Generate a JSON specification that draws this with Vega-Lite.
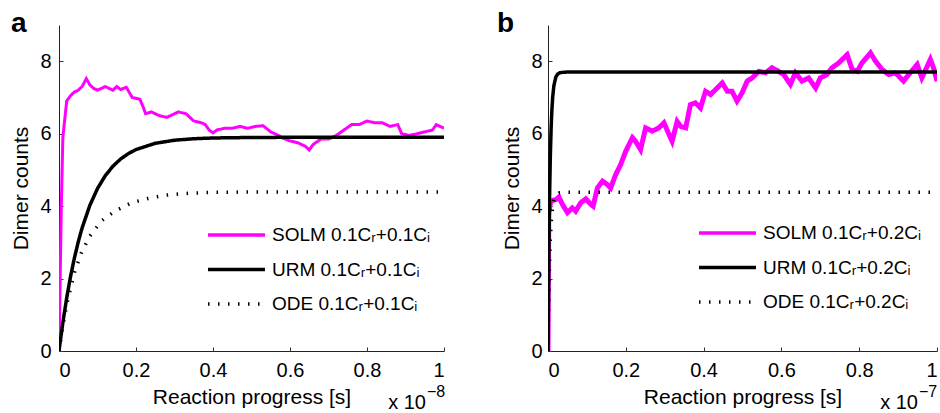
{
  "$schema": "https://vega.github.io/schema/vega-lite/v6.json",
  "padding": {"left": 10, "top": 10, "right": 0, "bottom": 0},
  "background": "white",
  "config": {
    "font": "Liberation Sans",
    "view": {"stroke": null},
    "axis": {
      "grid": false,
      "domainColor": "#222222",
      "domainWidth": 1,
      "ticks": false,
      "tickColor": "#333333",
      "tickSize": 4,
      "tickWidth": 1,
      "labelFont": "Liberation Sans",
      "labelFontSize": 20,
      "labelColor": "#000000",
      "titleFont": "Liberation Sans",
      "titleFontSize": 21,
      "titleFontWeight": "normal",
      "titleColor": "#000000"
    },
    "legend": {
      "orient": "none",
      "symbolType": "stroke",
      "symbolSize": 3249,
      "symbolStrokeWidth": 3.5,
      "labelFont": "Liberation Sans",
      "labelFontSize": 19,
      "labelColor": "#000000",
      "labelOffset": 5,
      "clipHeight": 22,
      "rowPadding": 12.5,
      "labelLimit": 400
    },
    "title": {"font": "Liberation Sans", "fontSize": 28, "fontWeight": "bold", "color": "#000000"}
  },
  "datasets": {
    "a": [
      {"model": "SOLM", "t": 0, "v": 0},
      {"model": "SOLM", "t": 0.003, "v": 2},
      {"model": "SOLM", "t": 0.006, "v": 4},
      {"model": "SOLM", "t": 0.01, "v": 5.9},
      {"model": "SOLM", "t": 0.02, "v": 6.9},
      {"model": "SOLM", "t": 0.03, "v": 7.05},
      {"model": "SOLM", "t": 0.04, "v": 7.15},
      {"model": "SOLM", "t": 0.05, "v": 7.2},
      {"model": "SOLM", "t": 0.06, "v": 7.3},
      {"model": "SOLM", "t": 0.071, "v": 7.52},
      {"model": "SOLM", "t": 0.08, "v": 7.35},
      {"model": "SOLM", "t": 0.09, "v": 7.25},
      {"model": "SOLM", "t": 0.1, "v": 7.2},
      {"model": "SOLM", "t": 0.12, "v": 7.3},
      {"model": "SOLM", "t": 0.14, "v": 7.2},
      {"model": "SOLM", "t": 0.15, "v": 7.3},
      {"model": "SOLM", "t": 0.16, "v": 7.22},
      {"model": "SOLM", "t": 0.175, "v": 7.28},
      {"model": "SOLM", "t": 0.19, "v": 7.0},
      {"model": "SOLM", "t": 0.21, "v": 6.95},
      {"model": "SOLM", "t": 0.22, "v": 6.7},
      {"model": "SOLM", "t": 0.225, "v": 6.55},
      {"model": "SOLM", "t": 0.24, "v": 6.6},
      {"model": "SOLM", "t": 0.26, "v": 6.5},
      {"model": "SOLM", "t": 0.28, "v": 6.45},
      {"model": "SOLM", "t": 0.29, "v": 6.5},
      {"model": "SOLM", "t": 0.3, "v": 6.55},
      {"model": "SOLM", "t": 0.31, "v": 6.6},
      {"model": "SOLM", "t": 0.33, "v": 6.55},
      {"model": "SOLM", "t": 0.35, "v": 6.35},
      {"model": "SOLM", "t": 0.37, "v": 6.3},
      {"model": "SOLM", "t": 0.38, "v": 6.25},
      {"model": "SOLM", "t": 0.39, "v": 6.1},
      {"model": "SOLM", "t": 0.4, "v": 6.02},
      {"model": "SOLM", "t": 0.41, "v": 6.1},
      {"model": "SOLM", "t": 0.43, "v": 6.15},
      {"model": "SOLM", "t": 0.45, "v": 6.15},
      {"model": "SOLM", "t": 0.47, "v": 6.2},
      {"model": "SOLM", "t": 0.49, "v": 6.15},
      {"model": "SOLM", "t": 0.51, "v": 6.2},
      {"model": "SOLM", "t": 0.53, "v": 6.22},
      {"model": "SOLM", "t": 0.55, "v": 6.05},
      {"model": "SOLM", "t": 0.57, "v": 5.95},
      {"model": "SOLM", "t": 0.58, "v": 5.88},
      {"model": "SOLM", "t": 0.6, "v": 5.8},
      {"model": "SOLM", "t": 0.62, "v": 5.75},
      {"model": "SOLM", "t": 0.64, "v": 5.65},
      {"model": "SOLM", "t": 0.65, "v": 5.55},
      {"model": "SOLM", "t": 0.66, "v": 5.7},
      {"model": "SOLM", "t": 0.68, "v": 5.85},
      {"model": "SOLM", "t": 0.7, "v": 5.85},
      {"model": "SOLM", "t": 0.72, "v": 5.95},
      {"model": "SOLM", "t": 0.74, "v": 6.1},
      {"model": "SOLM", "t": 0.76, "v": 6.25},
      {"model": "SOLM", "t": 0.78, "v": 6.25},
      {"model": "SOLM", "t": 0.8, "v": 6.35},
      {"model": "SOLM", "t": 0.82, "v": 6.3},
      {"model": "SOLM", "t": 0.84, "v": 6.3},
      {"model": "SOLM", "t": 0.86, "v": 6.2},
      {"model": "SOLM", "t": 0.88, "v": 6.25},
      {"model": "SOLM", "t": 0.89, "v": 6.0},
      {"model": "SOLM", "t": 0.91, "v": 5.95},
      {"model": "SOLM", "t": 0.93, "v": 6.0},
      {"model": "SOLM", "t": 0.95, "v": 6.05},
      {"model": "SOLM", "t": 0.97, "v": 6.1},
      {"model": "SOLM", "t": 0.98, "v": 6.25},
      {"model": "SOLM", "t": 1.0, "v": 6.15},
      {"model": "ODE", "t": 0, "v": 0},
      {"model": "ODE", "t": 0.01, "v": 0.7},
      {"model": "ODE", "t": 0.023, "v": 1.43},
      {"model": "ODE", "t": 0.041, "v": 2.2},
      {"model": "ODE", "t": 0.058, "v": 2.71},
      {"model": "ODE", "t": 0.08, "v": 3.17},
      {"model": "ODE", "t": 0.11, "v": 3.59},
      {"model": "ODE", "t": 0.145, "v": 3.86},
      {"model": "ODE", "t": 0.188, "v": 4.09},
      {"model": "ODE", "t": 0.231, "v": 4.21},
      {"model": "ODE", "t": 0.275, "v": 4.3},
      {"model": "ODE", "t": 0.33, "v": 4.35},
      {"model": "ODE", "t": 0.4, "v": 4.38},
      {"model": "ODE", "t": 0.5, "v": 4.39},
      {"model": "ODE", "t": 1.0, "v": 4.39},
      {"model": "URM", "t": 0, "v": 0},
      {"model": "URM", "t": 0.01, "v": 0.785},
      {"model": "URM", "t": 0.02, "v": 1.466},
      {"model": "URM", "t": 0.03, "v": 2.057},
      {"model": "URM", "t": 0.04, "v": 2.568},
      {"model": "URM", "t": 0.05, "v": 3.012},
      {"model": "URM", "t": 0.06, "v": 3.396},
      {"model": "URM", "t": 0.08, "v": 4.018},
      {"model": "URM", "t": 0.1, "v": 4.486},
      {"model": "URM", "t": 0.12, "v": 4.837},
      {"model": "URM", "t": 0.14, "v": 5.102},
      {"model": "URM", "t": 0.16, "v": 5.3},
      {"model": "URM", "t": 0.18, "v": 5.449},
      {"model": "URM", "t": 0.2, "v": 5.561},
      {"model": "URM", "t": 0.25, "v": 5.734},
      {"model": "URM", "t": 0.3, "v": 5.819},
      {"model": "URM", "t": 0.35, "v": 5.86},
      {"model": "URM", "t": 0.4, "v": 5.881},
      {"model": "URM", "t": 0.5, "v": 5.895},
      {"model": "URM", "t": 0.6, "v": 5.899},
      {"model": "URM", "t": 0.8, "v": 5.9},
      {"model": "URM", "t": 1.0, "v": 5.9}
    ],
    "b": [
      {"model": "SOLM", "t": 0, "v": 0},
      {"model": "SOLM", "t": 0.002, "v": 3.8},
      {"model": "SOLM", "t": 0.007, "v": 4.14},
      {"model": "SOLM", "t": 0.02, "v": 4.18},
      {"model": "SOLM", "t": 0.028, "v": 4.25},
      {"model": "SOLM", "t": 0.037, "v": 4.05},
      {"model": "SOLM", "t": 0.05, "v": 3.82},
      {"model": "SOLM", "t": 0.0625, "v": 3.95},
      {"model": "SOLM", "t": 0.071, "v": 3.86},
      {"model": "SOLM", "t": 0.084, "v": 4.09},
      {"model": "SOLM", "t": 0.097, "v": 4.2},
      {"model": "SOLM", "t": 0.11, "v": 4.05},
      {"model": "SOLM", "t": 0.116, "v": 4.0},
      {"model": "SOLM", "t": 0.127, "v": 4.5},
      {"model": "SOLM", "t": 0.14, "v": 4.69},
      {"model": "SOLM", "t": 0.152, "v": 4.6},
      {"model": "SOLM", "t": 0.161, "v": 4.5},
      {"model": "SOLM", "t": 0.174, "v": 4.87},
      {"model": "SOLM", "t": 0.187, "v": 5.15},
      {"model": "SOLM", "t": 0.2, "v": 5.52},
      {"model": "SOLM", "t": 0.217, "v": 5.89},
      {"model": "SOLM", "t": 0.225, "v": 5.79},
      {"model": "SOLM", "t": 0.238, "v": 5.56},
      {"model": "SOLM", "t": 0.251, "v": 6.16},
      {"model": "SOLM", "t": 0.268, "v": 6.07},
      {"model": "SOLM", "t": 0.285, "v": 6.16},
      {"model": "SOLM", "t": 0.298, "v": 6.3},
      {"model": "SOLM", "t": 0.311, "v": 5.98},
      {"model": "SOLM", "t": 0.319, "v": 5.79},
      {"model": "SOLM", "t": 0.332, "v": 6.34},
      {"model": "SOLM", "t": 0.341, "v": 6.2},
      {"model": "SOLM", "t": 0.354, "v": 6.16},
      {"model": "SOLM", "t": 0.366, "v": 6.8},
      {"model": "SOLM", "t": 0.379, "v": 6.85},
      {"model": "SOLM", "t": 0.392, "v": 6.71},
      {"model": "SOLM", "t": 0.405, "v": 7.17},
      {"model": "SOLM", "t": 0.418, "v": 7.08},
      {"model": "SOLM", "t": 0.431, "v": 7.22},
      {"model": "SOLM", "t": 0.448, "v": 7.4},
      {"model": "SOLM", "t": 0.461, "v": 7.17},
      {"model": "SOLM", "t": 0.473, "v": 7.17},
      {"model": "SOLM", "t": 0.486, "v": 6.9},
      {"model": "SOLM", "t": 0.499, "v": 7.13},
      {"model": "SOLM", "t": 0.512, "v": 7.45},
      {"model": "SOLM", "t": 0.525, "v": 7.54},
      {"model": "SOLM", "t": 0.542, "v": 7.72},
      {"model": "SOLM", "t": 0.559, "v": 7.68},
      {"model": "SOLM", "t": 0.576, "v": 7.82},
      {"model": "SOLM", "t": 0.593, "v": 7.72},
      {"model": "SOLM", "t": 0.606, "v": 7.63},
      {"model": "SOLM", "t": 0.623, "v": 7.36},
      {"model": "SOLM", "t": 0.636, "v": 7.68},
      {"model": "SOLM", "t": 0.653, "v": 7.45},
      {"model": "SOLM", "t": 0.67, "v": 7.54},
      {"model": "SOLM", "t": 0.688, "v": 7.26},
      {"model": "SOLM", "t": 0.7, "v": 7.54},
      {"model": "SOLM", "t": 0.717, "v": 7.63},
      {"model": "SOLM", "t": 0.73, "v": 7.82},
      {"model": "SOLM", "t": 0.747, "v": 7.95},
      {"model": "SOLM", "t": 0.769, "v": 8.18},
      {"model": "SOLM", "t": 0.782, "v": 7.77},
      {"model": "SOLM", "t": 0.795, "v": 7.72},
      {"model": "SOLM", "t": 0.807, "v": 7.95},
      {"model": "SOLM", "t": 0.829, "v": 8.23},
      {"model": "SOLM", "t": 0.842, "v": 8.0},
      {"model": "SOLM", "t": 0.859, "v": 7.77},
      {"model": "SOLM", "t": 0.876, "v": 7.63},
      {"model": "SOLM", "t": 0.893, "v": 7.68},
      {"model": "SOLM", "t": 0.914, "v": 7.45},
      {"model": "SOLM", "t": 0.927, "v": 7.63},
      {"model": "SOLM", "t": 0.949, "v": 7.91},
      {"model": "SOLM", "t": 0.961, "v": 7.54},
      {"model": "SOLM", "t": 0.983, "v": 8.05},
      {"model": "SOLM", "t": 0.991, "v": 7.82},
      {"model": "SOLM", "t": 1.0, "v": 7.45},
      {"model": "ODE", "t": 0, "v": 0},
      {"model": "ODE", "t": 0.002, "v": 1.45},
      {"model": "ODE", "t": 0.004, "v": 2.42},
      {"model": "ODE", "t": 0.006, "v": 3.07},
      {"model": "ODE", "t": 0.008, "v": 3.5},
      {"model": "ODE", "t": 0.01, "v": 3.8},
      {"model": "ODE", "t": 0.015, "v": 4.18},
      {"model": "ODE", "t": 0.02, "v": 4.31},
      {"model": "ODE", "t": 0.03, "v": 4.37},
      {"model": "ODE", "t": 0.04, "v": 4.38},
      {"model": "ODE", "t": 1.0, "v": 4.38},
      {"model": "URM", "t": 0, "v": 0},
      {"model": "URM", "t": 0.002, "v": 2.539},
      {"model": "URM", "t": 0.004, "v": 4.24},
      {"model": "URM", "t": 0.006, "v": 5.381},
      {"model": "URM", "t": 0.008, "v": 6.145},
      {"model": "URM", "t": 0.01, "v": 6.658},
      {"model": "URM", "t": 0.012, "v": 7.001},
      {"model": "URM", "t": 0.015, "v": 7.316},
      {"model": "URM", "t": 0.02, "v": 7.559},
      {"model": "URM", "t": 0.025, "v": 7.648},
      {"model": "URM", "t": 0.03, "v": 7.681},
      {"model": "URM", "t": 0.04, "v": 7.697},
      {"model": "URM", "t": 0.05, "v": 7.7},
      {"model": "URM", "t": 1.0, "v": 7.7}
    ],
    "noteA": [{"base": "x 10", "exp": "−8"}],
    "noteB": [{"base": "x 10", "exp": "−7"}]
  },
  "hconcat": [
    {
      "width": 385,
      "height": 326,
      "title": {"text": "a", "anchor": "start", "frame": "group", "dx": -48, "dy": 8, "offset": -27, "baseline": "alphabetic"},
      "resolve": {"axis": {"x": "independent", "y": "independent"}},
      "layer": [
        {
          "data": {"name": "a"},
          "encoding": {
            "x": {"field": "t", "type": "quantitative", "scale": {"domain": [0, 1], "nice": false},
              "axis": {"title": "Reaction progress [s]", "values": [0, 0.2, 0.4, 0.6, 0.8, 1], "format": "~g", "labelPadding": 9, "titlePadding": 6}},
            "y": {"field": "v", "type": "quantitative", "scale": {"domain": [0, 9], "nice": false},
              "axis": {"title": "Dimer counts", "values": [0, 2, 4, 6, 8], "labelPadding": 8, "titlePadding": 8}},
            "color": {"field": "model", "type": "nominal",
              "scale": {"domain": ["SOLM", "URM", "ODE"], "range": ["#ff00ff", "#000000", "#000000"]},
              "legend": {"title": null, "legendX": 147, "legendY": 199,
                "labelExpr": "datum.label === 'SOLM' ? 'SOLM 0.1Cᵣ+0.1Cᵢ' : datum.label === 'URM' ? 'URM 0.1Cᵣ+0.1Cᵢ' : 'ODE 0.1Cᵣ+0.1Cᵢ'"}},
            "strokeDash": {"field": "model", "type": "nominal",
              "scale": {"domain": ["SOLM", "URM", "ODE"], "range": [[1, 0], [1, 0], [1.5, 8.5]]},
              "legend": {"title": null, "legendX": 147, "legendY": 199,
                "labelExpr": "datum.label === 'SOLM' ? 'SOLM 0.1Cᵣ+0.1Cᵢ' : datum.label === 'URM' ? 'URM 0.1Cᵣ+0.1Cᵢ' : 'ODE 0.1Cᵣ+0.1Cᵢ'"}}
          },
          "layer": [
            {"transform": [{"filter": "datum.model === 'SOLM'"}], "mark": {"type": "line", "strokeWidth": 3, "clip": true}},
            {"transform": [{"filter": "datum.model === 'ODE'"}], "mark": {"type": "line", "strokeWidth": 3.5, "clip": true}},
            {"transform": [{"filter": "datum.model === 'URM'"}], "mark": {"type": "line", "strokeWidth": 3.5, "clip": true}}
          ]
        },
        {
          "data": {"name": "noteA"},
          "mark": {"type": "text", "align": "right", "baseline": "alphabetic", "dx": -18, "dy": 58, "fontSize": 20, "color": "#000000"},
          "encoding": {
            "x": {"datum": 1, "type": "quantitative", "axis": {"orient": "top", "offset": -326, "minExtent": 0, "maxExtent": 0, "ticks": true, "labels": false, "domain": false, "title": null, "values": [0, 0.2, 0.4, 0.6, 0.8, 1]}},
            "y": {"datum": 0, "type": "quantitative", "axis": {"orient": "right", "offset": -385, "minExtent": 0, "maxExtent": 0, "ticks": true, "labels": false, "domain": false, "title": null, "values": [0, 2, 4, 6, 8]}},
            "text": {"field": "base"}
          }
        },
        {
          "data": {"name": "noteA"},
          "mark": {"type": "text", "align": "left", "baseline": "alphabetic", "dx": -17, "dy": 46, "fontSize": 16, "color": "#000000"},
          "encoding": {"x": {"datum": 1, "type": "quantitative", "axis": null}, "y": {"datum": 0, "type": "quantitative", "axis": null}, "text": {"field": "exp"}}
        }
      ]
    },
    {
      "width": 389,
      "height": 326,
      "title": {"text": "b", "anchor": "start", "frame": "group", "dx": -51, "dy": 8, "offset": -27, "baseline": "alphabetic"},
      "resolve": {"axis": {"x": "independent", "y": "independent"}},
      "layer": [
        {
          "data": {"name": "b"},
          "encoding": {
            "x": {"field": "t", "type": "quantitative", "scale": {"domain": [0, 1], "nice": false},
              "axis": {"title": "Reaction progress [s]", "values": [0, 0.2, 0.4, 0.6, 0.8, 1], "format": "~g", "labelPadding": 9, "titlePadding": 6}},
            "y": {"field": "v", "type": "quantitative", "scale": {"domain": [0, 9], "nice": false},
              "axis": {"title": "Dimer counts", "values": [0, 2, 4, 6, 8], "labelPadding": 6, "titlePadding": 8}},
            "color": {"field": "model", "type": "nominal",
              "scale": {"domain": ["SOLM", "URM", "ODE"], "range": ["#ff00ff", "#000000", "#000000"]},
              "legend": {"title": null, "legendX": 149, "legendY": 197,
                "labelExpr": "datum.label === 'SOLM' ? 'SOLM 0.1Cᵣ+0.2Cᵢ' : datum.label === 'URM' ? 'URM 0.1Cᵣ+0.2Cᵢ' : 'ODE 0.1Cᵣ+0.2Cᵢ'"}},
            "strokeDash": {"field": "model", "type": "nominal",
              "scale": {"domain": ["SOLM", "URM", "ODE"], "range": [[1, 0], [1, 0], [1.5, 8.5]]},
              "legend": {"title": null, "legendX": 149, "legendY": 197,
                "labelExpr": "datum.label === 'SOLM' ? 'SOLM 0.1Cᵣ+0.2Cᵢ' : datum.label === 'URM' ? 'URM 0.1Cᵣ+0.2Cᵢ' : 'ODE 0.1Cᵣ+0.2Cᵢ'"}}
          },
          "layer": [
            {"transform": [{"filter": "datum.model === 'SOLM'"}], "mark": {"type": "line", "strokeWidth": 5, "clip": true}},
            {"transform": [{"filter": "datum.model === 'ODE'"}], "mark": {"type": "line", "strokeWidth": 3.5, "clip": true}},
            {"transform": [{"filter": "datum.model === 'URM'"}], "mark": {"type": "line", "strokeWidth": 3.5, "clip": true}}
          ]
        },
        {
          "data": {"name": "noteB"},
          "mark": {"type": "text", "align": "right", "baseline": "alphabetic", "dx": -19, "dy": 58, "fontSize": 20, "color": "#000000"},
          "encoding": {
            "x": {"datum": 1, "type": "quantitative", "axis": {"orient": "top", "offset": -326, "minExtent": 0, "maxExtent": 0, "ticks": true, "labels": false, "domain": false, "title": null, "values": [0, 0.2, 0.4, 0.6, 0.8, 1]}},
            "y": {"datum": 0, "type": "quantitative", "axis": {"orient": "right", "offset": -389, "minExtent": 0, "maxExtent": 0, "ticks": true, "labels": false, "domain": false, "title": null, "values": [0, 2, 4, 6, 8]}},
            "text": {"field": "base"}
          }
        },
        {
          "data": {"name": "noteB"},
          "mark": {"type": "text", "align": "left", "baseline": "alphabetic", "dx": -18, "dy": 46, "fontSize": 16, "color": "#000000"},
          "encoding": {"x": {"datum": 1, "type": "quantitative", "axis": null}, "y": {"datum": 0, "type": "quantitative", "axis": null}, "text": {"field": "exp"}}
        }
      ]
    }
  ],
  "spacing": 51,
  "resolve": {"scale": {"color": "independent", "strokeDash": "independent"}, "legend": {"color": "independent", "strokeDash": "independent"}}
}
